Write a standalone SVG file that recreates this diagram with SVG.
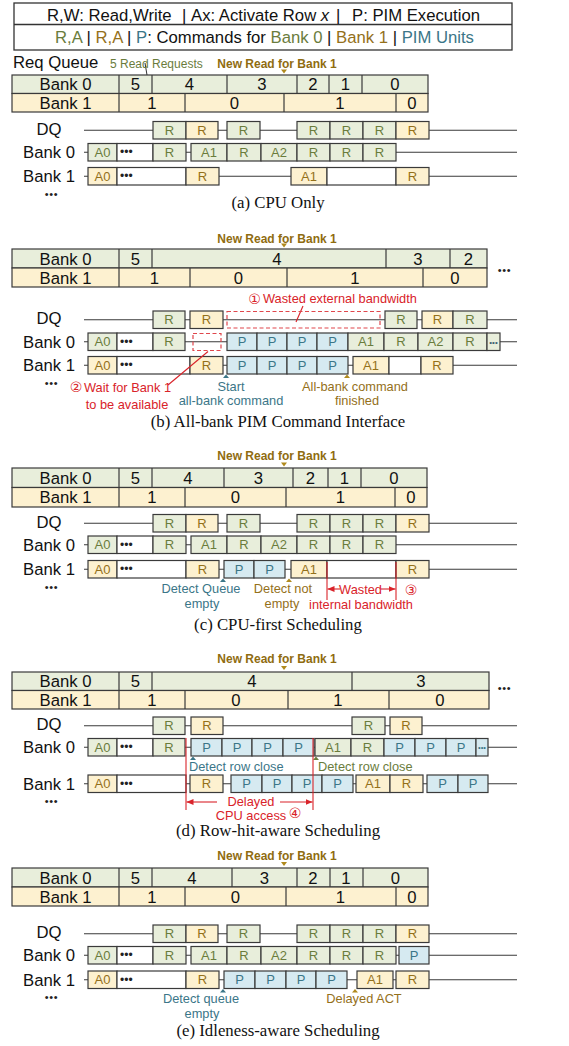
<svg xmlns="http://www.w3.org/2000/svg" width="569" height="1046" viewBox="0 0 569 1046">
<style>
text{font-family:"Liberation Sans",Arial,sans-serif}
.lb{font-size:16.7px;fill:#111;text-anchor:middle}
.bx{stroke:#3a3a3a;stroke-width:1.2}
.g{fill:#e8eedb}.y{fill:#fdf1d0}.b{fill:#d6eaf1}.w{fill:#fff}
.bt{font-size:13px;text-anchor:middle}
.cg{fill:#6a7c3c}.cy{fill:#94701a}.cb{fill:#3b7688}.cr{fill:#d9232a}
.ln{stroke:#3a3a3a;stroke-width:1.2;fill:none}
.dl{stroke:#3a3a3a;stroke-width:1.2}
.an{font-size:12.8px}
.mid{text-anchor:middle}
.nr{font-size:12px;font-weight:bold;fill:#8f6c10;text-anchor:middle}
.cap{font-family:"Liberation Serif","Times New Roman",serif;font-size:16.8px;fill:#111;text-anchor:middle}
.dots{font-size:12px;fill:#222}
.ud{font-size:11px;fill:#222;text-anchor:middle;letter-spacing:0.6px}
.circ{font-family:"DejaVu Sans","Noto Sans CJK SC",sans-serif;font-size:14px;fill:#d9232a;text-anchor:middle}
.dash{fill:none;stroke:#e0474c;stroke-width:1.2;stroke-dasharray:4 2.5}
.red{stroke:#d9232a;stroke-width:1.1;fill:none}
</style>
<defs>
<marker id="ar" markerWidth="7" markerHeight="6" refX="7" refY="3" orient="auto" markerUnits="userSpaceOnUse"><path d="M0,0 L7,3 L0,6 z" fill="#d9232a"/></marker>
</defs>
<rect width="569" height="1046" fill="#fff"/>

<!-- Legend -->
<g id="legend">
<rect x="14" y="3" width="498" height="47" fill="#fff" stroke="#333" stroke-width="1.3"/>
<line x1="14" y1="24.5" x2="512" y2="24.5" stroke="#333" stroke-width="1.3"/>
<text font-size="16.7" fill="#111" y="20.5"><tspan x="47">R,W: Read,Write</tspan><tspan x="182">|</tspan><tspan x="191">Ax: Activate Row </tspan><tspan font-style="italic">x</tspan><tspan x="336">|</tspan><tspan x="352">P: PIM Execution</tspan></text>
<text font-size="16.7" y="42.5" x="55" fill="#111"><tspan class="cg">R,A</tspan> | <tspan class="cy">R,A</tspan> | <tspan class="cb">P</tspan>: Commands for <tspan class="cg">Bank 0</tspan> | <tspan class="cy">Bank 1</tspan> | <tspan class="cb">PIM Units</tspan></text>
</g>

<!-- Connectors: timelines, leaders, arrows -->
<g id="connectors">
<line class="ln" x1="84" y1="130.25" x2="517" y2="130.25"/>
<line class="ln" x1="84" y1="152.25" x2="517" y2="152.25"/>
<line class="ln" x1="84" y1="176.25" x2="517" y2="176.25"/>
<line class="ln" x1="84" y1="319.75" x2="517" y2="319.75"/>
<line class="ln" x1="84" y1="341.75" x2="517" y2="341.75"/>
<line class="ln" x1="84" y1="365.25" x2="517" y2="365.25"/>
<line class="ln" x1="84" y1="523.25" x2="517" y2="523.25"/>
<line class="ln" x1="84" y1="544.75" x2="517" y2="544.75"/>
<line class="ln" x1="84" y1="569.25" x2="517" y2="569.25"/>
<line class="ln" x1="84" y1="725.75" x2="517" y2="725.75"/>
<line class="ln" x1="84" y1="747.25" x2="517" y2="747.25"/>
<line class="ln" x1="84" y1="783.75" x2="517" y2="783.75"/>
<line class="ln" x1="84" y1="933.75" x2="517" y2="933.75"/>
<line class="ln" x1="84" y1="955.25" x2="517" y2="955.25"/>
<line class="ln" x1="84" y1="979.75" x2="517" y2="979.75"/>
<line x1="145" y1="63" x2="147" y2="75" stroke="#333" stroke-width="1"/>
</g>

<!-- (a) CPU Only -->
<g id="sec-a">
<g id="a-queue">
<text x="13" y="67.5" font-size="16.7" fill="#111">Req Queue</text>
<text x="110" y="67.5" font-size="12" class="cg">5 Read Requests</text>
<text x="277" y="68" class="nr">New Read for Bank 1</text>
<path d="M281,69.5 L287,69.5 L284,73.5 z" fill="#b08a1e"/>
<rect class="bx g" x="12" y="75" width="416" height="18.5"/>
<rect class="bx y" x="12" y="93.5" width="416" height="18.5"/>
<path class="dl" d="M119,75V93.5M152,75V93.5M227,75V93.5M297,75V93.5M329,75V93.5M362,75V93.5M119,93.5V112M185,93.5V112M284,93.5V112M396,93.5V112"/>
<g class="lb"><text x="65.5" y="90.2">Bank 0</text><text x="135.5" y="90.2">5</text><text x="189.5" y="90.2">4</text><text x="262" y="90.2">3</text><text x="313" y="90.2">2</text><text x="345.5" y="90.2">1</text><text x="395" y="90.2">0</text>
<text x="65.5" y="108.7">Bank 1</text><text x="152" y="108.7">1</text><text x="234.5" y="108.7">0</text><text x="340" y="108.7">1</text><text x="412" y="108.7">0</text></g>
</g>
<g id="a-labels" class="lb"><text x="49" y="134.5">DQ</text><text x="49" y="158.3">Bank 0</text><text x="49" y="182.3">Bank 1</text></g>
<text class="ud" x="51.5" y="197.5">•••</text>
<g id="a-dq">
<rect class="bx g" x="153" y="121.5" width="33" height="17.5"/><rect class="bx y" x="186" y="121.5" width="32" height="17.5"/><rect class="bx g" x="227" y="121.5" width="33" height="17.5"/><rect class="bx g" x="297" y="121.5" width="33" height="17.5"/><rect class="bx g" x="330" y="121.5" width="33" height="17.5"/><rect class="bx g" x="363" y="121.5" width="33" height="17.5"/><rect class="bx y" x="396" y="121.5" width="33" height="17.5"/>
<text class="bt cg" x="169.5" y="134.9">R</text><text class="bt cy" x="202" y="134.9">R</text><text class="bt cg" x="243.5" y="134.9">R</text><text class="bt cg" x="313.5" y="134.9">R</text><text class="bt cg" x="346.5" y="134.9">R</text><text class="bt cg" x="379.5" y="134.9">R</text><text class="bt cy" x="412.5" y="134.9">R</text>
</g>
<g id="a-bank0">
<rect class="bx g" x="88" y="143.5" width="29" height="17.5"/><rect class="bx w" x="117" y="143.5" width="36" height="17.5"/><rect class="bx g" x="153" y="143.5" width="33" height="17.5"/><rect class="bx g" x="191" y="143.5" width="36" height="17.5"/><rect class="bx g" x="227" y="143.5" width="34" height="17.5"/><rect class="bx g" x="261" y="143.5" width="36" height="17.5"/><rect class="bx g" x="297" y="143.5" width="33" height="17.5"/><rect class="bx g" x="330" y="143.5" width="33" height="17.5"/><rect class="bx g" x="363" y="143.5" width="33" height="17.5"/>
<text class="bt cg" x="102.5" y="156.9">A0</text><text class="dots" x="120" y="156">•••</text><text class="bt cg" x="169.5" y="156.9">R</text><text class="bt cg" x="209" y="156.9">A1</text><text class="bt cg" x="244" y="156.9">R</text><text class="bt cg" x="279" y="156.9">A2</text><text class="bt cg" x="313.5" y="156.9">R</text><text class="bt cg" x="346.5" y="156.9">R</text><text class="bt cg" x="379.5" y="156.9">R</text>
</g>
<g id="a-bank1">
<rect class="bx y" x="88" y="167.5" width="29" height="17.5"/><rect class="bx w" x="117" y="167.5" width="69" height="17.5"/><rect class="bx y" x="186" y="167.5" width="33" height="17.5"/><rect class="bx y" x="291" y="167.5" width="36" height="17.5"/><rect class="bx w" x="327" y="167.5" width="69" height="17.5"/><rect class="bx y" x="396" y="167.5" width="33" height="17.5"/>
<text class="bt cy" x="102.5" y="180.9">A0</text><text class="dots" x="120" y="180">•••</text><text class="bt cy" x="202.5" y="180.9">R</text><text class="bt cy" x="309" y="180.9">A1</text><text class="bt cy" x="412.5" y="180.9">R</text>
</g>
<text class="cap" x="278" y="207.5">(a) CPU Only</text>
</g>

<!-- (b) All-bank PIM Command Interface -->
<g id="sec-b">
<g id="b-queue">
<text x="277" y="243" class="nr">New Read for Bank 1</text>
<path d="M281,243.5 L287,243.5 L284,247.5 z" fill="#b08a1e"/>
<rect class="bx g" x="12" y="249" width="475" height="19"/>
<rect class="bx y" x="12" y="268" width="475" height="19"/>
<path class="dl" d="M119,249V268M152,249V268M386,249V268M450,249V268M119,268V287M190,268V287M287,268V287M423,268V287"/>
<g class="lb"><text x="65.5" y="264.5">Bank 0</text><text x="135.5" y="264.5">5</text><text x="277" y="264.5">4</text><text x="418" y="264.5">3</text><text x="468.5" y="264.5">2</text>
<text x="65.5" y="283.5">Bank 1</text><text x="154.5" y="283.5">1</text><text x="238.5" y="283.5">0</text><text x="355" y="283.5">1</text><text x="455" y="283.5">0</text></g>
<text class="ud" x="504.5" y="274">•••</text>
</g>
<g id="b-labels" class="lb"><text x="49" y="324">DQ</text><text x="49" y="347.7">Bank 0</text><text x="49" y="371.2">Bank 1</text></g>
<text class="ud" x="51.5" y="386.5">•••</text>
<g id="b-note1">
<text class="circ" x="254.5" y="303.5">①</text>
<text class="an cr" x="263" y="303">Wasted external bandwidth</text>
<line class="red" x1="303" y1="306" x2="296" y2="322"/>
</g>
<g id="b-dq">
<rect class="bx g" x="153" y="311" width="32" height="17.5"/><rect class="bx y" x="190" y="311" width="33" height="17.5"/><rect class="dash" x="227" y="311.5" width="153" height="16.5"/><rect class="bx g" x="385" y="311" width="32" height="17.5"/><rect class="bx y" x="422" y="311" width="31" height="17.5"/><rect class="bx g" x="453" y="311" width="34" height="17.5"/>
<text class="bt cg" x="169" y="324.4">R</text><text class="bt cy" x="206.5" y="324.4">R</text><text class="bt cg" x="401" y="324.4">R</text><text class="bt cy" x="437.5" y="324.4">R</text><text class="bt cg" x="470" y="324.4">R</text>
</g>
<g id="b-bank0">
<rect class="bx g" x="88" y="333" width="29" height="17.5"/><rect class="bx w" x="117" y="333" width="36" height="17.5"/><rect class="bx g" x="153" y="333" width="32" height="17.5"/><rect class="dash" x="193" y="333.5" width="28" height="17"/><rect class="bx b" x="227" y="333" width="30" height="17.5"/><rect class="bx b" x="257" y="333" width="30" height="17.5"/><rect class="bx b" x="287" y="333" width="30" height="17.5"/><rect class="bx b" x="317" y="333" width="31" height="17.5"/><rect class="bx g" x="348" y="333" width="36" height="17.5"/><rect class="bx g" x="384" y="333" width="34" height="17.5"/><rect class="bx g" x="418" y="333" width="35" height="17.5"/><rect class="bx g" x="453" y="333" width="34" height="17.5"/><rect class="bx g" x="487" y="333" width="13" height="17.5"/>
<text class="bt cg" x="102.5" y="346.4">A0</text><text class="dots" x="120" y="345.5">•••</text><text class="bt cg" x="169" y="346.4">R</text><text class="bt cb" x="242" y="346.4">P</text><text class="bt cb" x="272" y="346.4">P</text><text class="bt cb" x="302" y="346.4">P</text><text class="bt cb" x="332.5" y="346.4">P</text><text class="bt cg" x="366" y="346.4">A1</text><text class="bt cg" x="401" y="346.4">R</text><text class="bt cg" x="435.5" y="346.4">A2</text><text class="bt cg" x="470" y="346.4">R</text><text x="493.5" y="344.8" font-size="8" fill="#3b6070" text-anchor="middle">•••</text>
</g>
<g id="b-bank1">
<rect class="bx y" x="88" y="356.5" width="29" height="17.5"/><rect class="bx w" x="117" y="356.5" width="73" height="17.5"/><rect class="bx y" x="190" y="356.5" width="33" height="17.5"/><rect class="bx b" x="227" y="356.5" width="30" height="17.5"/><rect class="bx b" x="257" y="356.5" width="30" height="17.5"/><rect class="bx b" x="287" y="356.5" width="30" height="17.5"/><rect class="bx b" x="317" y="356.5" width="31" height="17.5"/><rect class="bx y" x="353" y="356.5" width="36" height="17.5"/><rect class="bx w" x="389" y="356.5" width="32" height="17.5"/><rect class="bx y" x="421" y="356.5" width="32" height="17.5"/>
<text class="bt cy" x="102.5" y="369.9">A0</text><text class="dots" x="120" y="369">•••</text><text class="bt cy" x="206.5" y="369.9">R</text><text class="bt cb" x="242" y="369.9">P</text><text class="bt cb" x="272" y="369.9">P</text><text class="bt cb" x="302" y="369.9">P</text><text class="bt cb" x="332.5" y="369.9">P</text><text class="bt cy" x="371" y="369.9">A1</text><text class="bt cy" x="437" y="369.9">R</text>
</g>
<g id="b-notes">
<path d="M226,374.5 L229,378 L223,378 z" fill="#3b7688"/>
<path d="M347,374.5 L350,378 L344,378 z" fill="#b08a1e"/>
<text class="an cb mid" x="231" y="391">Start</text><text class="an cb mid" x="231" y="404.5">all-bank command</text>
<text class="an cy mid" x="355" y="391">All-bank command</text><text class="an cy mid" x="357" y="404.5">finished</text>
<text class="circ" x="76" y="391.5">②</text>
<text class="an cr" x="84" y="391.5">Wait for Bank 1</text>
<text class="an cr mid" x="127" y="408.5">to be available</text>
<line class="red" x1="168" y1="385" x2="208" y2="351.5"/>
</g>
<text class="cap" x="278" y="427">(b) All-bank PIM Command Interface</text>
</g>

<!-- (c) CPU-first Scheduling -->
<g id="sec-c">
<g id="c-queue">
<text x="277" y="460" class="nr">New Read for Bank 1</text>
<path d="M281,462.5 L287,462.5 L284,466.5 z" fill="#b08a1e"/>
<rect class="bx g" x="12" y="468" width="415" height="19.5"/>
<rect class="bx y" x="12" y="487.5" width="415" height="19.5"/>
<path class="dl" d="M119,468V487.5M152,468V487.5M224,468V487.5M293,468V487.5M328,468V487.5M361,468V487.5M119,487.5V507M185,487.5V507M286,487.5V507M395,487.5V507"/>
<g class="lb"><text x="65.5" y="483.7">Bank 0</text><text x="135.5" y="483.7">5</text><text x="188" y="483.7">4</text><text x="258.5" y="483.7">3</text><text x="310.5" y="483.7">2</text><text x="344.5" y="483.7">1</text><text x="394" y="483.7">0</text>
<text x="65.5" y="503.2">Bank 1</text><text x="152" y="503.2">1</text><text x="235.5" y="503.2">0</text><text x="340.5" y="503.2">1</text><text x="411" y="503.2">0</text></g>
</g>
<g id="c-labels" class="lb"><text x="49" y="527.5">DQ</text><text x="49" y="550.7">Bank 0</text><text x="49" y="575.2">Bank 1</text></g>
<text class="ud" x="51.5" y="590.5">•••</text>
<g id="c-dq">
<rect class="bx g" x="153" y="514.5" width="33" height="17.5"/><rect class="bx y" x="186" y="514.5" width="32" height="17.5"/><rect class="bx g" x="227" y="514.5" width="33" height="17.5"/><rect class="bx g" x="297" y="514.5" width="33" height="17.5"/><rect class="bx g" x="330" y="514.5" width="33" height="17.5"/><rect class="bx g" x="363" y="514.5" width="33" height="17.5"/><rect class="bx y" x="396" y="514.5" width="33" height="17.5"/>
<text class="bt cg" x="169.5" y="527.9">R</text><text class="bt cy" x="202" y="527.9">R</text><text class="bt cg" x="243.5" y="527.9">R</text><text class="bt cg" x="313.5" y="527.9">R</text><text class="bt cg" x="346.5" y="527.9">R</text><text class="bt cg" x="379.5" y="527.9">R</text><text class="bt cy" x="412.5" y="527.9">R</text>
</g>
<g id="c-bank0">
<rect class="bx g" x="88" y="536" width="29" height="17.5"/><rect class="bx w" x="117" y="536" width="36" height="17.5"/><rect class="bx g" x="153" y="536" width="33" height="17.5"/><rect class="bx g" x="191" y="536" width="36" height="17.5"/><rect class="bx g" x="227" y="536" width="34" height="17.5"/><rect class="bx g" x="261" y="536" width="36" height="17.5"/><rect class="bx g" x="297" y="536" width="33" height="17.5"/><rect class="bx g" x="330" y="536" width="33" height="17.5"/><rect class="bx g" x="363" y="536" width="33" height="17.5"/>
<text class="bt cg" x="102.5" y="549.4">A0</text><text class="dots" x="120" y="548.5">•••</text><text class="bt cg" x="169.5" y="549.4">R</text><text class="bt cg" x="209" y="549.4">A1</text><text class="bt cg" x="244" y="549.4">R</text><text class="bt cg" x="279" y="549.4">A2</text><text class="bt cg" x="313.5" y="549.4">R</text><text class="bt cg" x="346.5" y="549.4">R</text><text class="bt cg" x="379.5" y="549.4">R</text>
</g>
<g id="c-bank1">
<rect class="bx y" x="88" y="560.5" width="29" height="17.5"/><rect class="bx w" x="117" y="560.5" width="69" height="17.5"/><rect class="bx y" x="186" y="560.5" width="33" height="17.5"/><rect class="bx b" x="224" y="560.5" width="30" height="17.5"/><rect class="bx b" x="254" y="560.5" width="31" height="17.5"/><rect class="bx y" x="291" y="560.5" width="36" height="17.5"/><rect class="bx w" x="327" y="560.5" width="69" height="17.5"/><rect class="bx y" x="396" y="560.5" width="33" height="17.5"/>
<text class="bt cy" x="102.5" y="573.9">A0</text><text class="dots" x="120" y="573">•••</text><text class="bt cy" x="202.5" y="573.9">R</text><text class="bt cb" x="239" y="573.9">P</text><text class="bt cb" x="269.5" y="573.9">P</text><text class="bt cy" x="309" y="573.9">A1</text><text class="bt cy" x="412.5" y="573.9">R</text>
</g>
<g id="c-notes">
<path d="M223,578.5 L226,582 L220,582 z" fill="#3b7688"/>
<path d="M289,578.5 L292,582 L286,582 z" fill="#b08a1e"/>
<text class="an cb mid" x="201" y="592.5">Detect Queue</text><text class="an cb mid" x="202" y="608">empty</text>
<text class="an cy mid" x="283" y="592.5">Detect not</text><text class="an cy mid" x="282" y="608">empty</text>
<line class="red" x1="327" y1="562" x2="327" y2="600"/>
<line class="red" x1="396" y1="562" x2="396" y2="600"/>
<line class="red" x1="340" y1="589" x2="327.5" y2="589" marker-end="url(#ar)"/>
<line class="red" x1="381" y1="589" x2="395.5" y2="589" marker-end="url(#ar)"/>
<text class="an cr mid" x="360.5" y="594">Wasted</text>
<text class="circ" x="411" y="594.5">③</text>
<text class="an cr mid" x="361" y="608.5">internal bandwidth</text>
</g>
<text class="cap" x="278" y="629.5">(c) CPU-first Scheduling</text>
</g>

<!-- (d) Row-hit-aware Scheduling -->
<g id="sec-d">
<g id="d-queue">
<text x="277" y="663" class="nr">New Read for Bank 1</text>
<path d="M281,666 L287,666 L284,670 z" fill="#b08a1e"/>
<rect class="bx g" x="12" y="672" width="477" height="18.5"/>
<rect class="bx y" x="12" y="690.5" width="477" height="18.5"/>
<path class="dl" d="M119,672V690.5M152,672V690.5M352,672V690.5M119,690.5V709M185,690.5V709M288,690.5V709M389,690.5V709"/>
<g class="lb"><text x="65.5" y="687.2">Bank 0</text><text x="135.5" y="687.2">5</text><text x="252" y="687.2">4</text><text x="421" y="687.2">3</text>
<text x="65.5" y="705.7">Bank 1</text><text x="152" y="705.7">1</text><text x="236" y="705.7">0</text><text x="338" y="705.7">1</text><text x="440" y="705.7">0</text></g>
<text class="ud" x="504.5" y="691.5">•••</text>
</g>
<g id="d-labels" class="lb"><text x="49" y="730">DQ</text><text x="49" y="753.2">Bank 0</text><text x="49" y="789.7">Bank 1</text></g>
<text class="ud" x="51.5" y="805">•••</text>
<g id="d-dq">
<rect class="bx g" x="153" y="717" width="32" height="17.5"/><rect class="bx y" x="191" y="717" width="32" height="17.5"/><rect class="bx g" x="352" y="717" width="33" height="17.5"/><rect class="bx y" x="390" y="717" width="32" height="17.5"/>
<text class="bt cg" x="169" y="730.4">R</text><text class="bt cy" x="207" y="730.4">R</text><text class="bt cg" x="368.5" y="730.4">R</text><text class="bt cy" x="406" y="730.4">R</text>
</g>
<g id="d-bank0">
<rect class="bx g" x="88" y="738.5" width="29" height="17.5"/><rect class="bx w" x="117" y="738.5" width="36" height="17.5"/><rect class="bx g" x="153" y="738.5" width="32" height="17.5"/><rect class="bx b" x="191" y="738.5" width="31" height="17.5"/><rect class="bx b" x="222" y="738.5" width="30" height="17.5"/><rect class="bx b" x="252" y="738.5" width="31" height="17.5"/><rect class="bx b" x="283" y="738.5" width="31" height="17.5"/><rect class="bx g" x="315" y="738.5" width="36" height="17.5"/><rect class="bx g" x="351" y="738.5" width="33" height="17.5"/><rect class="bx b" x="384" y="738.5" width="31" height="17.5"/><rect class="bx b" x="415" y="738.5" width="31" height="17.5"/><rect class="bx b" x="446" y="738.5" width="30" height="17.5"/><rect class="bx b" x="476" y="738.5" width="12" height="17.5"/>
<text class="bt cg" x="102.5" y="751.9">A0</text><text class="dots" x="120" y="751">•••</text><text class="bt cg" x="169" y="751.9">R</text><text class="bt cb" x="206.5" y="751.9">P</text><text class="bt cb" x="237" y="751.9">P</text><text class="bt cb" x="267.5" y="751.9">P</text><text class="bt cb" x="298.5" y="751.9">P</text><text class="bt cg" x="333" y="751.9">A1</text><text class="bt cg" x="367.5" y="751.9">R</text><text class="bt cb" x="399.5" y="751.9">P</text><text class="bt cb" x="430.5" y="751.9">P</text><text class="bt cb" x="461" y="751.9">P</text><text x="482" y="750.3" font-size="7.5" class="cb" text-anchor="middle">•••</text>
</g>
<g id="d-bank1">
<rect class="bx y" x="88" y="775" width="29" height="17.5"/><rect class="bx w" x="117" y="775" width="69" height="17.5"/><rect class="bx y" x="190" y="775" width="33" height="17.5"/><rect class="bx b" x="231" y="775" width="31" height="17.5"/><rect class="bx b" x="262" y="775" width="30" height="17.5"/><rect class="bx b" x="292" y="775" width="30" height="17.5"/><rect class="bx b" x="322" y="775" width="31" height="17.5"/><rect class="bx y" x="356" y="775" width="34" height="17.5"/><rect class="bx y" x="390" y="775" width="33" height="17.5"/><rect class="bx b" x="427" y="775" width="31" height="17.5"/><rect class="bx b" x="458" y="775" width="30" height="17.5"/>
<text class="bt cy" x="102.5" y="788.4">A0</text><text class="dots" x="120" y="787.5">•••</text><text class="bt cy" x="206.5" y="788.4">R</text><text class="bt cb" x="246.5" y="788.4">P</text><text class="bt cb" x="277" y="788.4">P</text><text class="bt cb" x="307" y="788.4">P</text><text class="bt cb" x="337.5" y="788.4">P</text><text class="bt cy" x="373" y="788.4">A1</text><text class="bt cy" x="406.5" y="788.4">R</text><text class="bt cb" x="442.5" y="788.4">P</text><text class="bt cb" x="473" y="788.4">P</text>
</g>
<g id="d-notes">
<path d="M193,756.5 L196,760 L190,760 z" fill="#3b7688"/>
<path d="M316,756.5 L319,760 L313,760 z" fill="#6a7c3c"/>
<text class="an cb" x="189" y="771">Detect row close</text>
<text class="an cg" x="318" y="771">Detect row close</text>
<line class="red" x1="186" y1="738" x2="186" y2="810"/>
<line class="red" x1="313" y1="738" x2="313" y2="810"/>
<line class="red" x1="217" y1="802" x2="186.5" y2="802" marker-end="url(#ar)"/>
<line class="red" x1="280" y1="802" x2="312.5" y2="802" marker-end="url(#ar)"/>
<text class="an cr mid" x="251" y="806">Delayed</text>
<text class="an cr mid" x="251" y="820">CPU access</text>
<text class="circ" x="295" y="818">④</text>
</g>
<text class="cap" x="278" y="836">(d) Row-hit-aware Scheduling</text>
</g>

<!-- (e) Idleness-aware Scheduling -->
<g id="sec-e">
<g id="e-queue">
<text x="277" y="860" class="nr">New Read for Bank 1</text>
<path d="M281,862 L287,862 L284,866 z" fill="#b08a1e"/>
<rect class="bx g" x="12" y="868" width="416" height="19"/>
<rect class="bx y" x="12" y="887" width="416" height="19"/>
<path class="dl" d="M119,868V887M152,868V887M232,868V887M297,868V887M330,868V887M363,868V887M119,887V906M185,887V906M286,887V906M396,887V906"/>
<g class="lb"><text x="65.5" y="883.5">Bank 0</text><text x="135.5" y="883.5">5</text><text x="192" y="883.5">4</text><text x="264.5" y="883.5">3</text><text x="313" y="883.5">2</text><text x="346" y="883.5">1</text><text x="395.5" y="883.5">0</text>
<text x="65.5" y="902.5">Bank 1</text><text x="152" y="902.5">1</text><text x="235.5" y="902.5">0</text><text x="340.5" y="902.5">1</text><text x="412" y="902.5">0</text></g>
</g>
<g id="e-labels" class="lb"><text x="49" y="938">DQ</text><text x="49" y="961.2">Bank 0</text><text x="49" y="985.7">Bank 1</text></g>
<text class="ud" x="51.5" y="1001">•••</text>
<g id="e-dq">
<rect class="bx g" x="153" y="925" width="33" height="17.5"/><rect class="bx y" x="186" y="925" width="32" height="17.5"/><rect class="bx g" x="227" y="925" width="33" height="17.5"/><rect class="bx g" x="297" y="925" width="33" height="17.5"/><rect class="bx g" x="330" y="925" width="33" height="17.5"/><rect class="bx g" x="363" y="925" width="33" height="17.5"/><rect class="bx y" x="396" y="925" width="33" height="17.5"/>
<text class="bt cg" x="169.5" y="938.4">R</text><text class="bt cy" x="202" y="938.4">R</text><text class="bt cg" x="243.5" y="938.4">R</text><text class="bt cg" x="313.5" y="938.4">R</text><text class="bt cg" x="346.5" y="938.4">R</text><text class="bt cg" x="379.5" y="938.4">R</text><text class="bt cy" x="412.5" y="938.4">R</text>
</g>
<g id="e-bank0">
<rect class="bx g" x="88" y="946.5" width="29" height="17.5"/><rect class="bx w" x="117" y="946.5" width="36" height="17.5"/><rect class="bx g" x="153" y="946.5" width="33" height="17.5"/><rect class="bx g" x="191" y="946.5" width="36" height="17.5"/><rect class="bx g" x="227" y="946.5" width="34" height="17.5"/><rect class="bx g" x="261" y="946.5" width="36" height="17.5"/><rect class="bx g" x="297" y="946.5" width="33" height="17.5"/><rect class="bx g" x="330" y="946.5" width="33" height="17.5"/><rect class="bx g" x="363" y="946.5" width="33" height="17.5"/><rect class="bx b" x="399" y="946.5" width="30" height="17.5"/>
<text class="bt cg" x="102.5" y="959.9">A0</text><text class="dots" x="120" y="959">•••</text><text class="bt cg" x="169.5" y="959.9">R</text><text class="bt cg" x="209" y="959.9">A1</text><text class="bt cg" x="244" y="959.9">R</text><text class="bt cg" x="279" y="959.9">A2</text><text class="bt cg" x="313.5" y="959.9">R</text><text class="bt cg" x="346.5" y="959.9">R</text><text class="bt cg" x="379.5" y="959.9">R</text><text class="bt cb" x="414" y="959.9">P</text>
</g>
<g id="e-bank1">
<rect class="bx y" x="88" y="971" width="29" height="17.5"/><rect class="bx w" x="117" y="971" width="69" height="17.5"/><rect class="bx y" x="186" y="971" width="33" height="17.5"/><rect class="bx b" x="224" y="971" width="31" height="17.5"/><rect class="bx b" x="255" y="971" width="31" height="17.5"/><rect class="bx b" x="286" y="971" width="30" height="17.5"/><rect class="bx b" x="316" y="971" width="31" height="17.5"/><rect class="bx y" x="357" y="971" width="36" height="17.5"/><rect class="bx y" x="396" y="971" width="33" height="17.5"/>
<text class="bt cy" x="102.5" y="984.4">A0</text><text class="dots" x="120" y="983.5">•••</text><text class="bt cy" x="202.5" y="984.4">R</text><text class="bt cb" x="239.5" y="984.4">P</text><text class="bt cb" x="270.5" y="984.4">P</text><text class="bt cb" x="301" y="984.4">P</text><text class="bt cb" x="331.5" y="984.4">P</text><text class="bt cy" x="375" y="984.4">A1</text><text class="bt cy" x="412.5" y="984.4">R</text>
</g>
<g id="e-notes">
<path d="M223,989 L226,992.5 L220,992.5 z" fill="#3b7688"/>
<path d="M355,989 L358,992.5 L352,992.5 z" fill="#b08a1e"/>
<text class="an cb mid" x="201" y="1003">Detect queue</text><text class="an cb mid" x="202" y="1018">empty</text>
<text class="an cy mid" x="364" y="1003">Delayed ACT</text>
</g>
<text class="cap" x="278" y="1036">(e) Idleness-aware Scheduling</text>
</g>
</svg>
